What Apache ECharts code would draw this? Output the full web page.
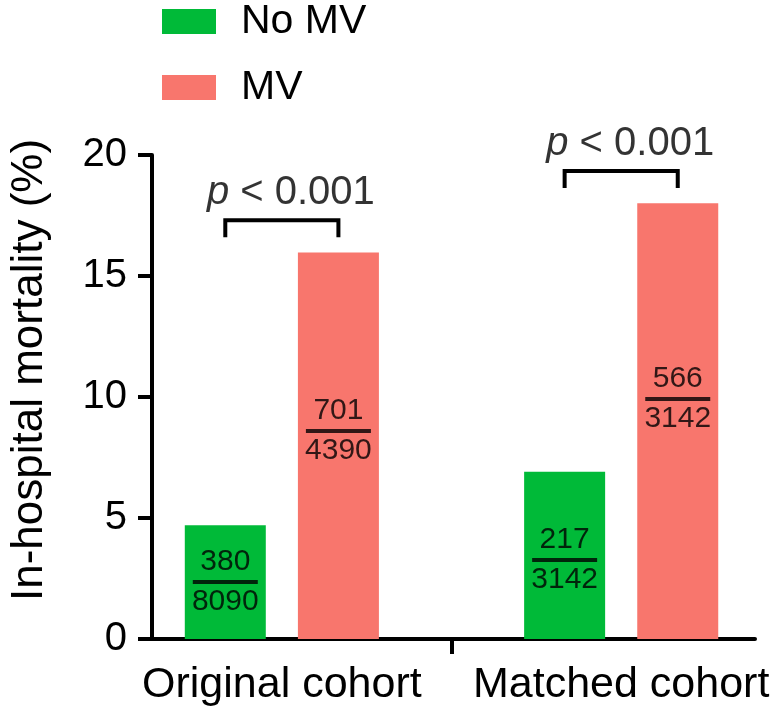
<!DOCTYPE html>
<html>
<head>
<meta charset="utf-8">
<script src="https://cdn.jsdelivr.net/npm/echarts@6/dist/echarts.min.js"></script>
<style>
html,body{margin:0;padding:0;background:#fff;}
#chart{width:778px;height:715px;}
</style>
</head>
<body>
<div id="chart"></div>
<script>
// ---- data ----
const categories = ['Original cohort', 'Matched cohort'];
const seriesNames = ['No MV', 'MV'];
const noMV = [4.70, 6.91];           // in-hospital mortality (%)
const mv = [15.97, 18.01];
const noMVNum = [380, 217];
const noMVDen = [8090, 3142];
const mvNum = [701, 566];
const mvDen = [4390, 3142];
const pTexts = ['< 0.001', '< 0.001'];

// ---- layout constants (not data) ----
const FONT = "'Liberation Sans', Arial, sans-serif";
const GREEN = '#00BA38', RED = '#F8766D';
const fracAnchor = { noMV: [2.36, 3.26], mv: [8.6, 9.92] };
const bracketTop = [17.3, 19.34];
const bracketLeg = 0.62;
const slot = (g, k) => 1 + 3 * g + k;   // k=0 No MV, k=1 MV

const chart = echarts.init(document.getElementById('chart'), null, { renderer: 'canvas' });

function fracSeries(nums, dens, anchors, k) {
  return {
    type: 'scatter', z: 5, silent: true,
    symbol: 'rect', symbolSize: [65, 4],
    itemStyle: { color: '#000' },
    data: nums.map((n, g) => ({ value: [slot(g, k), anchors[g]], num: n, den: dens[g] })),
    label: {
      show: true, position: 'inside',
      formatter: p => '{a|' + p.data.num + '}\n{a|' + p.data.den + '}',
      rich: { a: { fontSize: 30, lineHeight: 40, color: '#000', fontFamily: FONT } }
    }
  };
}

const bracketSeries = bracketTop.map((t, g) => ({
  type: 'line', z: 5, silent: true, symbol: 'none',
  lineStyle: { color: '#000', width: 4, cap: 'square', join: 'miter' },
  data: [[slot(g, 0), t - bracketLeg], [slot(g, 0), t], [slot(g, 1), t], [slot(g, 1), t - bracketLeg]]
}));

const pSeries = {
  type: 'scatter', z: 5, silent: true, symbolSize: 0,
  data: pTexts.map((s, g) => ({ value: [slot(g, 0) + 0.5, bracketTop[g]], txt: s })),
  label: {
    show: true, position: 'top', distance: 7, offset: [9, 0], color: '#000',
    formatter: p => '{i|p}{n| ' + p.data.txt + '}',
    rich: {
      i: { fontSize: 40, fontStyle: 'italic', color: '#000', fontFamily: FONT },
      n: { fontSize: 40, color: '#000', fontFamily: FONT }
    }
  }
};

const option = {
  animation: false,
  backgroundColor: '#fff',
  textStyle: { fontFamily: FONT },
  grid: { left: 150, right: 23, top: 155, bottom: 76 },
  legend: {
    orient: 'vertical', left: 162, top: 1, padding: 0,
    itemWidth: 54, itemHeight: 25, itemGap: 25, icon: 'rect',
    data: seriesNames,
    textStyle: { fontSize: 41, lineHeight: 36, color: '#000', fontFamily: FONT, padding: [0, 0, 0, 20] }
  },
  xAxis: {
    type: 'value', min: 0.352, max: 5.683,
    splitLine: { show: false },
    axisLine: { onZero: false, lineStyle: { color: '#000', width: 4 } },
    axisTick: { show: true, customValues: [3], length: 15, lineStyle: { color: '#000', width: 4 } },
    axisLabel: {
      customValues: [1.5, 4.5],
      formatter: v => categories[Math.round((v - 1.5) / 3)],
      fontSize: 43, color: '#000', margin: 25, fontFamily: FONT
    }
  },
  yAxis: {
    type: 'value', min: 0, max: 20, interval: 5,
    name: 'In-hospital mortality (%)', nameLocation: 'middle', nameGap: 100, nameRotate: 90,
    nameTextStyle: { fontSize: 44, color: '#000', fontFamily: FONT, padding: [0, 0, 0, 54] },
    splitLine: { show: false },
    axisLine: { show: true, onZero: false, lineStyle: { color: '#000', width: 4 } },
    axisTick: { show: true, length: 14, lineStyle: { color: '#000', width: 4 } },
    axisLabel: { fontSize: 40, color: '#000', margin: 25, fontFamily: FONT }
  },
  series: [
    { type: 'bar', name: seriesNames[0], barWidth: 81, barGap: '-100%',
      itemStyle: { color: GREEN }, data: noMV.map((v, g) => [slot(g, 0), v]) },
    { type: 'bar', name: seriesNames[1], barWidth: 81, barGap: '-100%',
      itemStyle: { color: RED }, data: mv.map((v, g) => [slot(g, 1), v]) },
    fracSeries(noMVNum, noMVDen, fracAnchor.noMV, 0),
    fracSeries(mvNum, mvDen, fracAnchor.mv, 1),
    ...bracketSeries,
    pSeries
  ]
};
chart.setOption(option);
</script>
</body>
</html>
